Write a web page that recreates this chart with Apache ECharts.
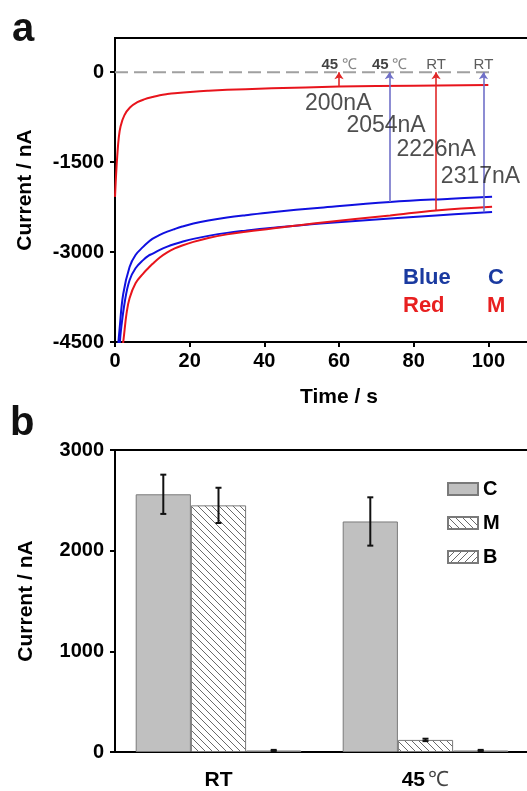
<!DOCTYPE html>
<html><head><meta charset="utf-8">
<script src="https://cdn.jsdelivr.net/npm/echarts@6/dist/echarts.min.js"></script>
<style>html,body{margin:0;padding:0;background:#fff}#c{width:527px;height:791px}</style>
</head><body><div id="c"></div><script>
// ---------- Panel a data ----------
const tM45 = [0, 0.3, 0.6, 1, 1.5, 2.5, 4, 6, 8, 10, 12, 14, 16, 21, 25, 30, 35, 42, 60, 80, 100];
const vM45 = [-2080, -1700, -1400, -1100, -900, -720, -590, -500, -450, -415, -385, -365, -350, -325, -310, -295, -283, -270, -240, -225, -215];
const tC45 = [0.8, 1.2, 2.2, 3.9, 5.5, 7.6, 9, 10, 12, 14, 16, 18, 21, 25, 30, 35, 42, 55, 73.7, 90, 101];
const vC45 = [-4600, -4300, -3700, -3250, -3050, -2910, -2830, -2780, -2715, -2660, -2615, -2575, -2525, -2475, -2425, -2385, -2335, -2260, -2165, -2110, -2078];
const tCRT = [1.2, 1.6, 2.7, 3.9, 5.5, 7.6, 9, 10, 12, 14, 16, 18, 21, 25, 30, 35, 41.6, 55, 73.7, 86, 101];
const vCRT = [-4600, -4300, -3800, -3470, -3270, -3130, -3060, -3030, -2965, -2910, -2865, -2828, -2780, -2730, -2680, -2643, -2600, -2525, -2440, -2390, -2330];
const tMRT = [2.0, 2.3, 3.1, 3.9, 5.5, 7.6, 9, 10, 12, 14, 16, 18, 21, 25, 30, 35, 41.6, 55, 73.7, 86, 101];
const vMRT = [-4600, -4450, -4020, -3770, -3520, -3355, -3262, -3200, -3090, -3005, -2940, -2890, -2830, -2765, -2705, -2660, -2610, -2510, -2390, -2305, -2244];
const arrowT = [60, 73.5, 86, 98.7];
const arrowFrom = [-240, -2165, -2305, -2335];
const arrowKind = ['M', 'C', 'M', 'C'];
const topLabels = ['45 ℃', '45 ℃', 'RT', 'RT'];
const valueLabels = ['200nA', '2054nA', '2226nA', '2317nA'];
const valueLabelT = [59.8, 72.6, 86.0, 97.9];
const valueLabelV = [-517, -900, -1300, -1750];
const yTicksA = [-4500, -3000, -1500, 0];

// ---------- Panel b data ----------
const categories = ['RT', '45 ℃'];
const valC = [2560, 2290];
const valM = [2450, 120];
const valB = [15, 15];
const errC = [195, 240];
const errM = [175, 12];
const errB = [6, 6];

const F = 'Liberation Sans, Arial, sans-serif';
const RED = '#e8141c', BLUE = '#1010e0';

function hatch(dir) {
  const n = 7, c = document.createElement('canvas');
  c.width = n; c.height = n;
  const g = c.getContext('2d');
  g.fillStyle = '#fff'; g.fillRect(0, 0, n, n);
  g.strokeStyle = '#6a6a6a'; g.lineWidth = 1;
  g.beginPath();
  for (const k of [-n, 0, n]) {
    if (dir === 'back') { g.moveTo(k, 0); g.lineTo(k + n, n); }
    else { g.moveTo(k, n); g.lineTo(k + n, 0); }
  }
  g.stroke();
  return c;
}
const zip = (a, b) => a.map((x, i) => [x, b[i]]);

function curve(t, v, color) {
  return { type: 'line', xAxisIndex: 0, yAxisIndex: 0, data: zip(t, v), showSymbol: false,
    smooth: 0.4, lineStyle: { color, width: 2 }, itemStyle: { color }, z: 3, silent: true };
}

function errRender(params, api) {
  const ci = api.value(0), v = api.value(1), e = api.value(2), off = api.value(3);
  const c = api.coord([ci, v]);
  const catW = api.size([1, 0])[0];
  const bw = catW * 0.8 / 3;
  const x = c[0] + off * bw;
  const yt = api.coord([ci, v + e])[1], yb = api.coord([ci, v - e])[1];
  const s = { stroke: '#111', lineWidth: 2 };
  return { type: 'group', children: [
    { type: 'line', shape: { x1: x, y1: yt, x2: x, y2: yb }, style: s },
    { type: 'line', shape: { x1: x - 3, y1: yt, x2: x + 3, y2: yt }, style: s },
    { type: 'line', shape: { x1: x - 3, y1: yb, x2: x + 3, y2: yb }, style: s }
  ] };
}
const errData = [];
[[valC, errC, -1], [valM, errM, 0], [valB, errB, 1]].forEach(([vals, errs, off]) => {
  vals.forEach((v, i) => errData.push([i, v, errs[i], off]));
});

const axisLineStyle = { color: '#000', width: 2 };
const tickLabel = { color: '#000', fontFamily: F, fontWeight: 'bold', fontSize: 20, formatter: v => String(v) };

const option = {
  animation: false,
  backgroundColor: '#fff',
  grid: [
    { left: 115, top: 38, width: 448, height: 304, show: true, borderColor: '#000', borderWidth: 2,
      backgroundColor: 'transparent', containLabel: false, outerBoundsMode: 'none' },
    { left: 115, top: 450, width: 414, height: 302, show: true, borderColor: '#000', borderWidth: 2,
      backgroundColor: 'transparent', containLabel: false, outerBoundsMode: 'none' }
  ],
  xAxis: [
    { type: 'value', gridIndex: 0, min: 0, max: 120, interval: 20,
      axisLine: { show: true, onZero: false, lineStyle: axisLineStyle }, axisTick: { show: true, inside: false, length: 5, lineStyle: axisLineStyle },
      axisLabel: Object.assign({ margin: 9 }, tickLabel), splitLine: { show: false },
      name: 'Time / s', nameLocation: 'middle', nameGap: 45,
      nameTextStyle: { color: '#000', fontFamily: F, fontWeight: 'bold', fontSize: 21 } },
    { type: 'category', gridIndex: 1, data: categories,
      axisLine: { show: true, onZero: false, lineStyle: axisLineStyle }, axisTick: { show: false },
      axisLabel: { margin: 18, formatter: v => v === 'RT' ? '{b|RT}' : '{b|45} {d|℃}',
        rich: { b: { color: '#000', fontFamily: F, fontWeight: 'bold', fontSize: 21 },
                d: { color: '#444', fontFamily: F, fontWeight: 'normal', fontSize: 21 } } } }
  ],
  yAxis: [
    { type: 'value', gridIndex: 0, min: -4500, max: 570,
      axisLine: { show: true, onZero: false, lineStyle: axisLineStyle },
      axisTick: { show: true, length: 5, lineStyle: axisLineStyle, customValues: yTicksA },
      axisLabel: Object.assign({ margin: 11, customValues: yTicksA }, tickLabel), splitLine: { show: false },
      name: 'Current / nA', nameLocation: 'middle', nameGap: 79,
      nameTextStyle: { color: '#000', fontFamily: F, fontWeight: 'bold', fontSize: 21 } },
    { type: 'value', gridIndex: 1, min: 0, max: 3000, interval: 1000,
      axisLine: { show: true, onZero: false, lineStyle: axisLineStyle },
      axisTick: { show: true, length: 5, lineStyle: axisLineStyle },
      axisLabel: Object.assign({ margin: 11 }, tickLabel), splitLine: { show: false },
      name: 'Current / nA', nameLocation: 'middle', nameGap: 78,
      nameTextStyle: { color: '#000', fontFamily: F, fontWeight: 'bold', fontSize: 21 } }
  ],
  legend: {
    data: ['C', 'M', 'B'], orient: 'vertical', left: 442, top: 474, itemWidth: 30, itemHeight: 12, itemGap: 14,
    icon: 'rect', textStyle: { color: '#000', fontFamily: F, fontWeight: 'bold', fontSize: 20, padding: [0, 0, 0, 0] },
    selectedMode: false
  },
  graphic: [
    { type: 'text', left: 12, top: 10, style: { text: 'a', font: 'bold 40px ' + F, fill: '#111' } },
    { type: 'text', left: 10, top: 404, style: { text: 'b', font: 'bold 40px ' + F, fill: '#111' } },
    { type: 'text', left: 403, top: 267, style: { text: 'Blue', font: 'bold 22px ' + F, fill: '#1a3aa0' } },
    { type: 'text', left: 488, top: 267, style: { text: 'C', font: 'bold 22px ' + F, fill: '#1a3aa0' } },
    { type: 'text', left: 403, top: 295, style: { text: 'Red', font: 'bold 22px ' + F, fill: '#e82020' } },
    { type: 'text', left: 487, top: 295, style: { text: 'M', font: 'bold 22px ' + F, fill: '#e82020' } }
  ],
  series: [
    { type: 'line', xAxisIndex: 0, yAxisIndex: 0, data: [[0, 0], [100.5, 0]], showSymbol: false,
      lineStyle: { color: '#a0a0a0', width: 2, type: [13, 6] }, z: 2, silent: true },
    curve(tM45, vM45, RED),
    curve(tC45, vC45, BLUE),
    curve(tCRT, vCRT, BLUE),
    curve(tMRT, vMRT, RED),
    { type: 'lines', coordinateSystem: 'cartesian2d', xAxisIndex: 0, yAxisIndex: 0, z: 4,
      symbol: ['none', 'arrow'], symbolSize: 7,
      data: arrowT.map((t, i) => ({ coords: [[t, arrowFrom[i]], [t, 0]],
        lineStyle: { color: arrowKind[i] === 'M' ? '#e02828' : '#7070c8', width: 1.6, opacity: 1 } })),
      lineStyle: { width: 1.6, opacity: 1 } },
    { type: 'scatter', xAxisIndex: 0, yAxisIndex: 0, symbolSize: 0, z: 5,
      data: arrowT.map((t, i) => ({ value: [t, 0], name: topLabels[i] })),
      label: { show: true, position: 'top', distance: 0,
        formatter: p => p.name === 'RT' ? '{r|RT}' : '{b|45} {d|℃}',
        rich: { b: { color: '#111', fontFamily: F, fontWeight: 'bold', fontSize: 15 },
                d: { color: '#666', fontFamily: F, fontSize: 15 },
                r: { color: '#333', fontFamily: F, fontSize: 15 } } } },
    { type: 'scatter', xAxisIndex: 0, yAxisIndex: 0, symbolSize: 0, z: 5,
      data: valueLabelT.map((t, i) => ({ value: [t, valueLabelV[i]], name: valueLabels[i] })),
      label: { show: true, position: 'inside', formatter: p => p.name,
        color: '#222', fontFamily: F, fontSize: 23 } },
    // panel b
    { name: 'C', type: 'bar', xAxisIndex: 1, yAxisIndex: 1, data: valC, barGap: 0, barCategoryGap: '20%',
      itemStyle: { color: '#c0c0c0', borderColor: '#7a7a7a', borderWidth: 1 } },
    { name: 'M', type: 'bar', xAxisIndex: 1, yAxisIndex: 1, data: valM, barGap: 0, barCategoryGap: '20%',
      itemStyle: { color: { image: hatch('back'), repeat: 'repeat' }, borderColor: '#7a7a7a', borderWidth: 1 } },
    { name: 'B', type: 'bar', xAxisIndex: 1, yAxisIndex: 1, data: valB, barGap: 0, barCategoryGap: '20%',
      itemStyle: { color: { image: hatch('fwd'), repeat: 'repeat' }, borderColor: '#7a7a7a', borderWidth: 1 } },
    { type: 'custom', xAxisIndex: 1, yAxisIndex: 1, data: errData, renderItem: errRender, z: 10,
      encode: { x: 0, y: 1 }, silent: true }
  ]
};
const chart = echarts.init(document.getElementById('c'));
chart.setOption(option);
</script></body></html>
